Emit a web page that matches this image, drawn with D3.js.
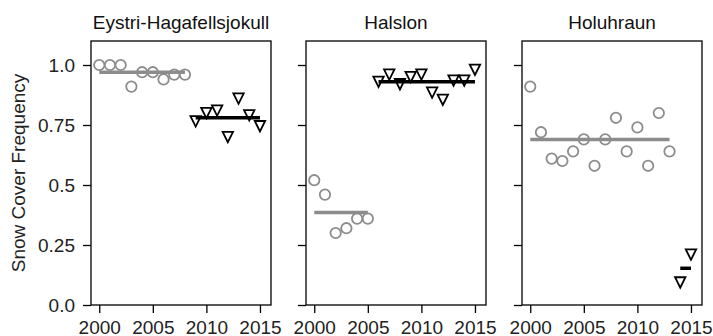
<!DOCTYPE html>
<html>
<head>
<meta charset="utf-8">
<script src="https://cdn.jsdelivr.net/npm/d3@7"></script>
<style>
    body { margin: 0; background: white; }
    text { font-family: "Liberation Sans", Arial, sans-serif; }
</style>
</head>
<body>
<svg id="canvas" width="713" height="336"></svg>
<script>
// data
let sites = ['Eystri-Hagafellsjokull', 'Halslon', 'Holuhraun']

let yearsBefore = [
    [2000, 2001, 2002, 2003, 2004, 2005, 2006, 2007, 2008],
    [2000, 2001, 2002, 2003, 2004, 2005],
    [2000, 2001, 2002, 2003, 2004, 2005, 2006, 2007, 2008, 2009, 2010, 2011, 2012, 2013]
]
let valuesBefore = [
    [1.0, 1.0, 1.0, 0.91, 0.97, 0.97, 0.94, 0.96, 0.96],
    [0.52, 0.46, 0.30, 0.32, 0.36, 0.36],
    [0.91, 0.72, 0.61, 0.60, 0.64, 0.69, 0.58, 0.69, 0.78, 0.64, 0.74, 0.58, 0.80, 0.64]
]
let meanBefore = [0.97, 0.385, 0.69]

let yearsAfter = [
    [2009, 2010, 2011, 2012, 2013, 2014, 2015],
    [2006, 2007, 2008, 2009, 2010, 2011, 2012, 2013, 2014, 2015],
    [2014, 2015]
]
let valuesAfter = [
    [0.765, 0.80, 0.81, 0.70, 0.86, 0.79, 0.745],
    [0.93, 0.96, 0.92, 0.95, 0.96, 0.885, 0.855, 0.935, 0.935, 0.98],
    [0.094, 0.21]
]
let meanAfter = [0.78, 0.93, 0.153]

let xTicks = [2000, 2005, 2010, 2015]
let yTicks = [0, 0.25, 0.5, 0.75, 1.0]
let yTickLabels = ['0.0', '0.25', '0.5', '0.75', '1.0']

let canvas = d3.select('#canvas')

let panelLeft = [91, 306, 522]
let panelTop = 41
let panelW = 180
let panelH = 264
let grey = '#8c8c8c'

let xScale = d3.scaleLinear().domain([1999.23, 2016.03]).range([0, panelW])
let yScale = d3.scaleLinear().domain([0, 1.1]).range([panelH, 0])

let tri = (x, y) => {
    let s = 5.2
    return 'M' + (x - s) + ',' + (y - s) + 'L' + (x + s) + ',' + (y - s) + 'L' + x + ',' + (y + s) + 'Z'
}

let drawPanel = (i) => {
    let g = canvas.append('g')
        .attr('transform', 'translate(' + panelLeft[i] + ',' + panelTop + ')')

    // title
    g.append('text')
        .attr('x', panelW / 2)
        .attr('y', -12)
        .attr('text-anchor', 'middle')
        .style('font-size', '19px')
        .style('fill', '#111')
        .text(sites[i])

    // before: grey circles
    let before = yearsBefore[i].map((yr, k) => ({ year: yr, value: valuesBefore[i][k] }))
    g.selectAll('circle.before')
        .data(before)
        .enter().append('circle')
        .attr('class', 'before')
        .attr('cx', d => xScale(d.year))
        .attr('cy', d => yScale(d.value))
        .attr('r', 5.2)
        .style('fill', 'none')
        .style('stroke', grey)
        .style('stroke-width', 1.8)

    g.append('line')
        .attr('x1', xScale(d3.min(yearsBefore[i])))
        .attr('x2', xScale(d3.max(yearsBefore[i])))
        .attr('y1', yScale(meanBefore[i]))
        .attr('y2', yScale(meanBefore[i]))
        .style('stroke', grey)
        .style('stroke-width', 3.5)

    // after: black triangles
    let after = yearsAfter[i].map((yr, k) => ({ year: yr, value: valuesAfter[i][k] }))
    g.selectAll('path.after')
        .data(after)
        .enter().append('path')
        .attr('class', 'after')
        .attr('d', d => tri(xScale(d.year), yScale(d.value)))
        .style('fill', 'white')
        .style('stroke', 'black')
        .style('stroke-width', 1.8)
        .style('stroke-linejoin', 'miter')

    g.append('line')
        .attr('x1', xScale(d3.min(yearsAfter[i])))
        .attr('x2', xScale(d3.max(yearsAfter[i])))
        .attr('y1', yScale(meanAfter[i]))
        .attr('y2', yScale(meanAfter[i]))
        .style('stroke', 'black')
        .style('stroke-width', 3.5)

    // axes
    let xAxis = d3.axisBottom(xScale)
        .tickValues(xTicks)
        .tickFormat(d3.format('d'))
        .tickSize(8)
        .tickPadding(8)
        .tickSizeOuter(0)
    g.append('g')
        .attr('transform', 'translate(0,' + panelH + ')')
        .call(xAxis)

    let yAxis = d3.axisLeft(yScale)
        .tickValues(yTicks)
        .tickFormat((d, k) => i == 0 ? yTickLabels[k] : '')
        .tickSize(8)
        .tickPadding(8)
        .tickSizeOuter(0)
    g.append('g').call(yAxis)

    g.selectAll('.tick text')
        .style('font-size', '19px')
        .style('fill', '#222')
        .style('font-family', '"Liberation Sans", Arial, sans-serif')
    g.selectAll('.tick line').style('stroke', 'black').style('stroke-width', 1.3)
    g.selectAll('.domain').remove()

    // box
    g.append('rect')
        .attr('width', panelW)
        .attr('height', panelH)
        .style('fill', 'none')
        .style('stroke', 'black')
        .style('stroke-width', 1.3)
}

for (let i = 0; i < sites.length; i++) {
    drawPanel(i)
}

canvas.append('text')
    .attr('transform', 'translate(25,' + (panelTop + panelH / 2) + ') rotate(-90)')
    .attr('text-anchor', 'middle')
    .style('font-size', '19px')
    .style('fill', '#222')
    .text('Snow Cover Frequency')
</script>
</body>
</html>
